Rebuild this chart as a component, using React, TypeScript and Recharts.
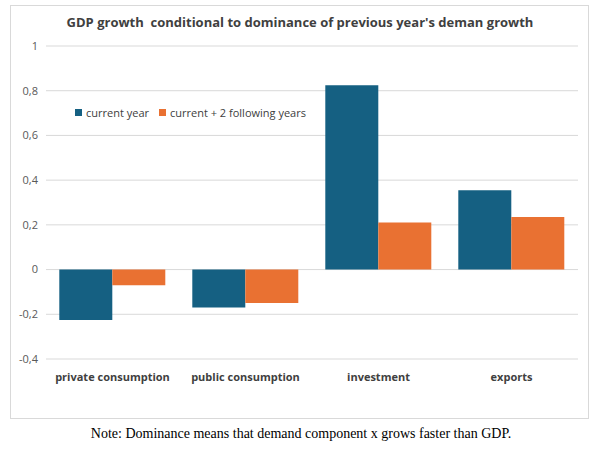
import React from "react";
import { BarChart, Bar, XAxis, YAxis, CartesianGrid } from "recharts";

const categories = ["private consumption", "public consumption", "investment", "exports"];
const currentYear = [-0.225, -0.17, 0.825, 0.355];
const followingYears = [-0.07, -0.15, 0.21, 0.235];
const yTicks = [-0.4, -0.2, 0, 0.2, 0.4, 0.6, 0.8, 1];
const seriesNames = ["current year", "current + 2 following years"];
const colors = ["#156082", "#E97132"];

const data = categories.map((c, i) => ({ name: c, cur: currentYear[i], fol: followingYears[i] }));
const font = "'Open Sans', 'Liberation Sans', sans-serif";
const fmt = (v: number) => (v === 0 ? "0" : String(v).replace(".", ","));

export default function App() {
  return (
    <div style={{ position: "absolute", left: 0, top: 0, width: 602, height: 453, background: "#fff" }}>
      <div style={{ position: "absolute", left: 10, top: 5, width: 579, height: 414, border: "1px solid #d9d9d9", boxSizing: "border-box" }} />
      <div style={{ position: "absolute", left: 10, top: 13, width: 580, textAlign: "center", fontFamily: font, fontWeight: 700, fontSize: 13, color: "#404040" }}>
        GDP growth&nbsp; conditional to dominance of previous year's deman growth
      </div>
      <div style={{ position: "absolute", left: 10, top: 5 }}>
        <BarChart width={580} height={415} data={data} margin={{ top: 41, right: 12, bottom: 31, left: 0 }} barGap={0} barCategoryGap="10%">
          <CartesianGrid vertical={false} stroke="#d9d9d9" />
          <XAxis dataKey="name" axisLine={false} tickLine={false} height={30} dy={6}
            tick={{ fontFamily: font, fontSize: 11, fontWeight: 700, fill: "#404040" }} />
          <YAxis width={36} domain={[-0.4, 1]} ticks={yTicks} axisLine={false} tickLine={false} tickFormatter={fmt}
            tick={{ fontFamily: font, fontSize: 11, fill: "#595959" }} />
          <Bar dataKey="cur" name={seriesNames[0]} fill={colors[0]} isAnimationActive={false} />
          <Bar dataKey="fol" name={seriesNames[1]} fill={colors[1]} isAnimationActive={false} />
        </BarChart>
      </div>
      <div style={{ position: "absolute", left: 75, top: 105, display: "flex", gap: 10, fontFamily: font, fontSize: 11, color: "#404040" }}>
        {seriesNames.map((n, i) => (
          <div key={n} style={{ display: "flex", alignItems: "center", gap: 4 }}>
            <span style={{ display: "inline-block", width: 7, height: 7, background: colors[i] }} />
            <span>{n}</span>
          </div>
        ))}
      </div>
      <div style={{ position: "absolute", left: 0, top: 426, width: 602, textAlign: "center", fontFamily: "'Liberation Serif', serif", fontSize: 14, color: "#000" }}>
        Note: Dominance means that demand component x grows faster than GDP.
      </div>
    </div>
  );
}
